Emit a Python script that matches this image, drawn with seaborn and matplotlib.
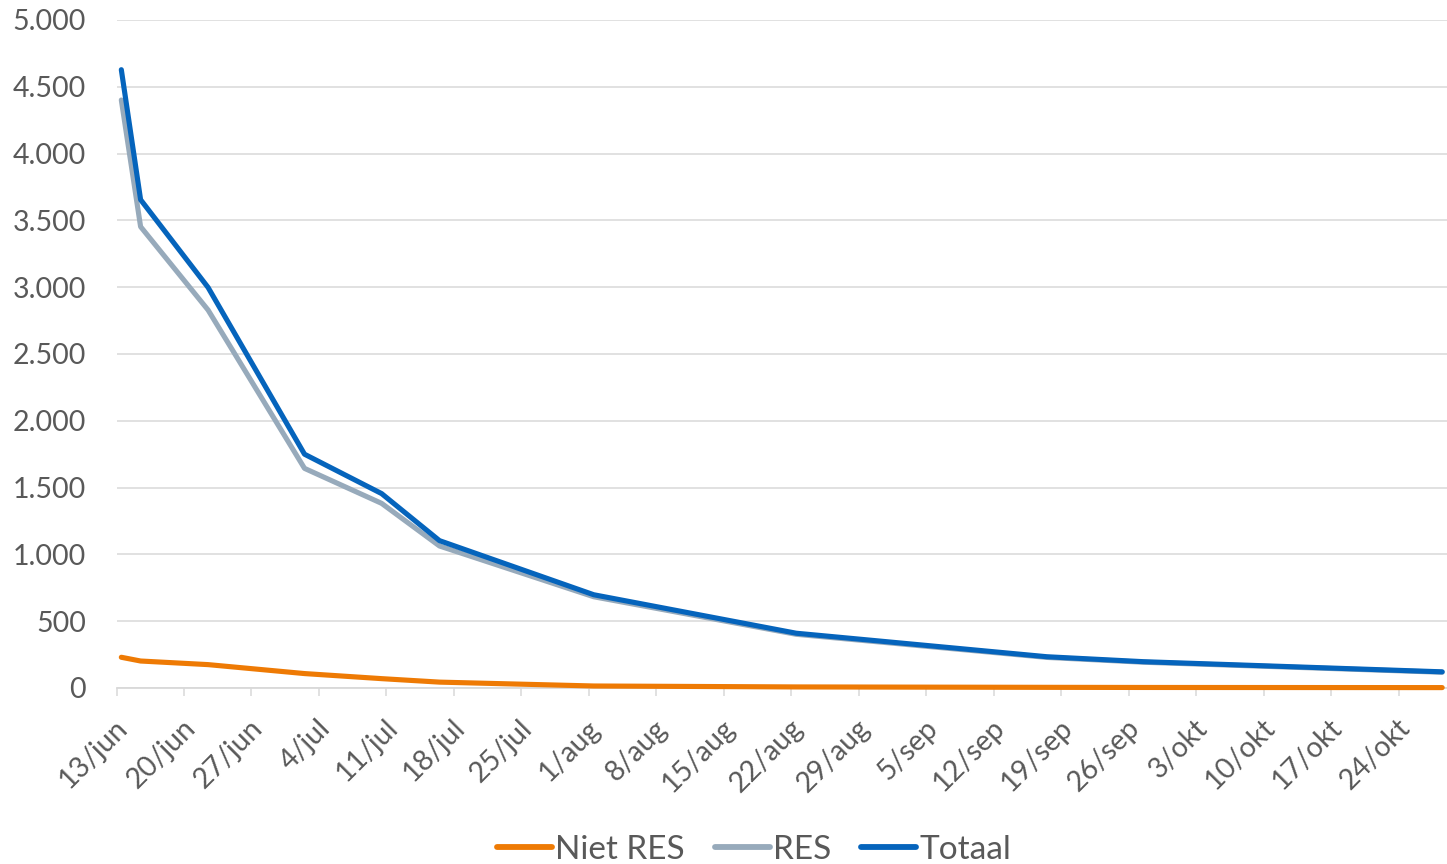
import matplotlib
matplotlib.use("Agg")
import matplotlib.pyplot as plt
import matplotlib.ticker as mticker
import matplotlib.transforms as mtransforms
import pandas as pd
import seaborn as sns

# ---- data ----
dates = ["2020-06-13", "2020-06-15", "2020-06-22", "2020-07-02", "2020-07-10",
         "2020-07-16", "2020-08-01", "2020-08-22", "2020-09-17", "2020-09-27",
         "2020-10-28"]
niet_res = [230, 202, 175, 108, 70, 44, 15, 8, 5, 4, 3]
res = [4401, 3453, 2829, 1644, 1382, 1063, 683, 402, 229, 193, 118]
totaal = [4628, 3655, 2998, 1750, 1455, 1103, 698, 410, 234, 197, 121]
series_names = ["Niet RES", "RES", "Totaal"]
tick_dates = ["2020-06-13", "2020-06-20", "2020-06-27", "2020-07-04", "2020-07-11",
              "2020-07-18", "2020-07-25", "2020-08-01", "2020-08-08", "2020-08-15",
              "2020-08-22", "2020-08-29", "2020-09-05", "2020-09-12", "2020-09-19",
              "2020-09-26", "2020-10-03", "2020-10-10", "2020-10-17", "2020-10-24"]
tick_labels = ["13/jun", "20/jun", "27/jun", "4/jul", "11/jul", "18/jul", "25/jul",
               "1/aug", "8/aug", "15/aug", "22/aug", "29/aug", "5/sep", "12/sep",
               "19/sep", "26/sep", "3/okt", "10/okt", "17/okt", "24/okt"]
y_ticks = [0, 500, 1000, 1500, 2000, 2500, 3000, 3500, 4000, 4500, 5000]

colors = {"Niet RES": "#EE7A04", "RES": "#97AABB", "Totaal": "#0564BC"}

# ---- frame ----
d = pd.to_datetime(dates) + pd.Timedelta(hours=12)  # Excel centres points in day slot
frames = []
for name, vals in zip(series_names, [niet_res, res, totaal]):
    frames.append(pd.DataFrame({"datum": d, "waarde": vals, "serie": name}))
df = pd.concat(frames, ignore_index=True)

sns.set_theme(style="white")
plt.rcParams["font.family"] = ["Lato", "DejaVu Sans"]

fig = plt.figure(figsize=(14.47, 8.64), dpi=100)
ax = fig.add_axes([116.5 / 1447, (864 - 688) / 864, 1 - 116.5 / 1447, (688 - 20) / 864])

sns.lineplot(data=df, x="datum", y="waarde", hue="serie", hue_order=series_names,
             palette=colors, linewidth=3.7, ax=ax, legend=True,
             solid_capstyle="round", solid_joinstyle="round", clip_on=False,
             zorder=3)

ax.set_xlim(pd.Timestamp("2020-06-13"), pd.Timestamp("2020-10-29"))
ax.set_ylim(0, 5000)
ax.set_yticks(y_ticks)
ax.yaxis.set_major_formatter(mticker.FuncFormatter(lambda v, p: f"{int(v):,}".replace(",", ".")))
ax.set_xticks(pd.to_datetime(tick_dates))
ax.set_xticklabels(tick_labels)

ax.grid(axis="y", color="#D9D9D9", linewidth=1.1)
ax.set_axisbelow(True)
for s in ["left", "right", "top"]:
    ax.spines[s].set_visible(False)
ax.spines["bottom"].set_color("#D9D9D9")
ax.spines["bottom"].set_linewidth(1.3)
ax.spines["bottom"].set_zorder(1)

ax.tick_params(axis="y", length=0, pad=22, labelsize=20.5, labelcolor="#595959")
ax.tick_params(axis="x", length=6, width=1.1, color="#D9D9D9", direction="out",
               pad=4, labelsize=20.5, labelcolor="#595959", bottom=True)
offset = mtransforms.ScaledTranslation(7 / 100, -22 / 100, fig.dpi_scale_trans)
for lab in ax.get_xticklabels():
    lab.set_rotation(45)
    lab.set_ha("right")
    lab.set_va("center")
    lab.set_rotation_mode("anchor")
    lab.set_transform(lab.get_transform() + offset)

ax.set_xlabel("")
ax.set_ylabel("")

handles, labels = ax.get_legend_handles_labels()
ax.get_legend().remove()
for h in handles:
    h.set_linewidth(4.2)
    h.set_solid_capstyle("round")
leg = fig.legend(handles, labels, loc="center", bbox_to_anchor=(754 / 1447, 14 / 864),
                 ncol=3, frameon=False, fontsize=24, handlelength=1.65,
                 handletextpad=0.1, columnspacing=0.9, borderaxespad=0)
for t in leg.get_texts():
    t.set_color("#595959")

fig.savefig("out.png", dpi=100, facecolor="white")
